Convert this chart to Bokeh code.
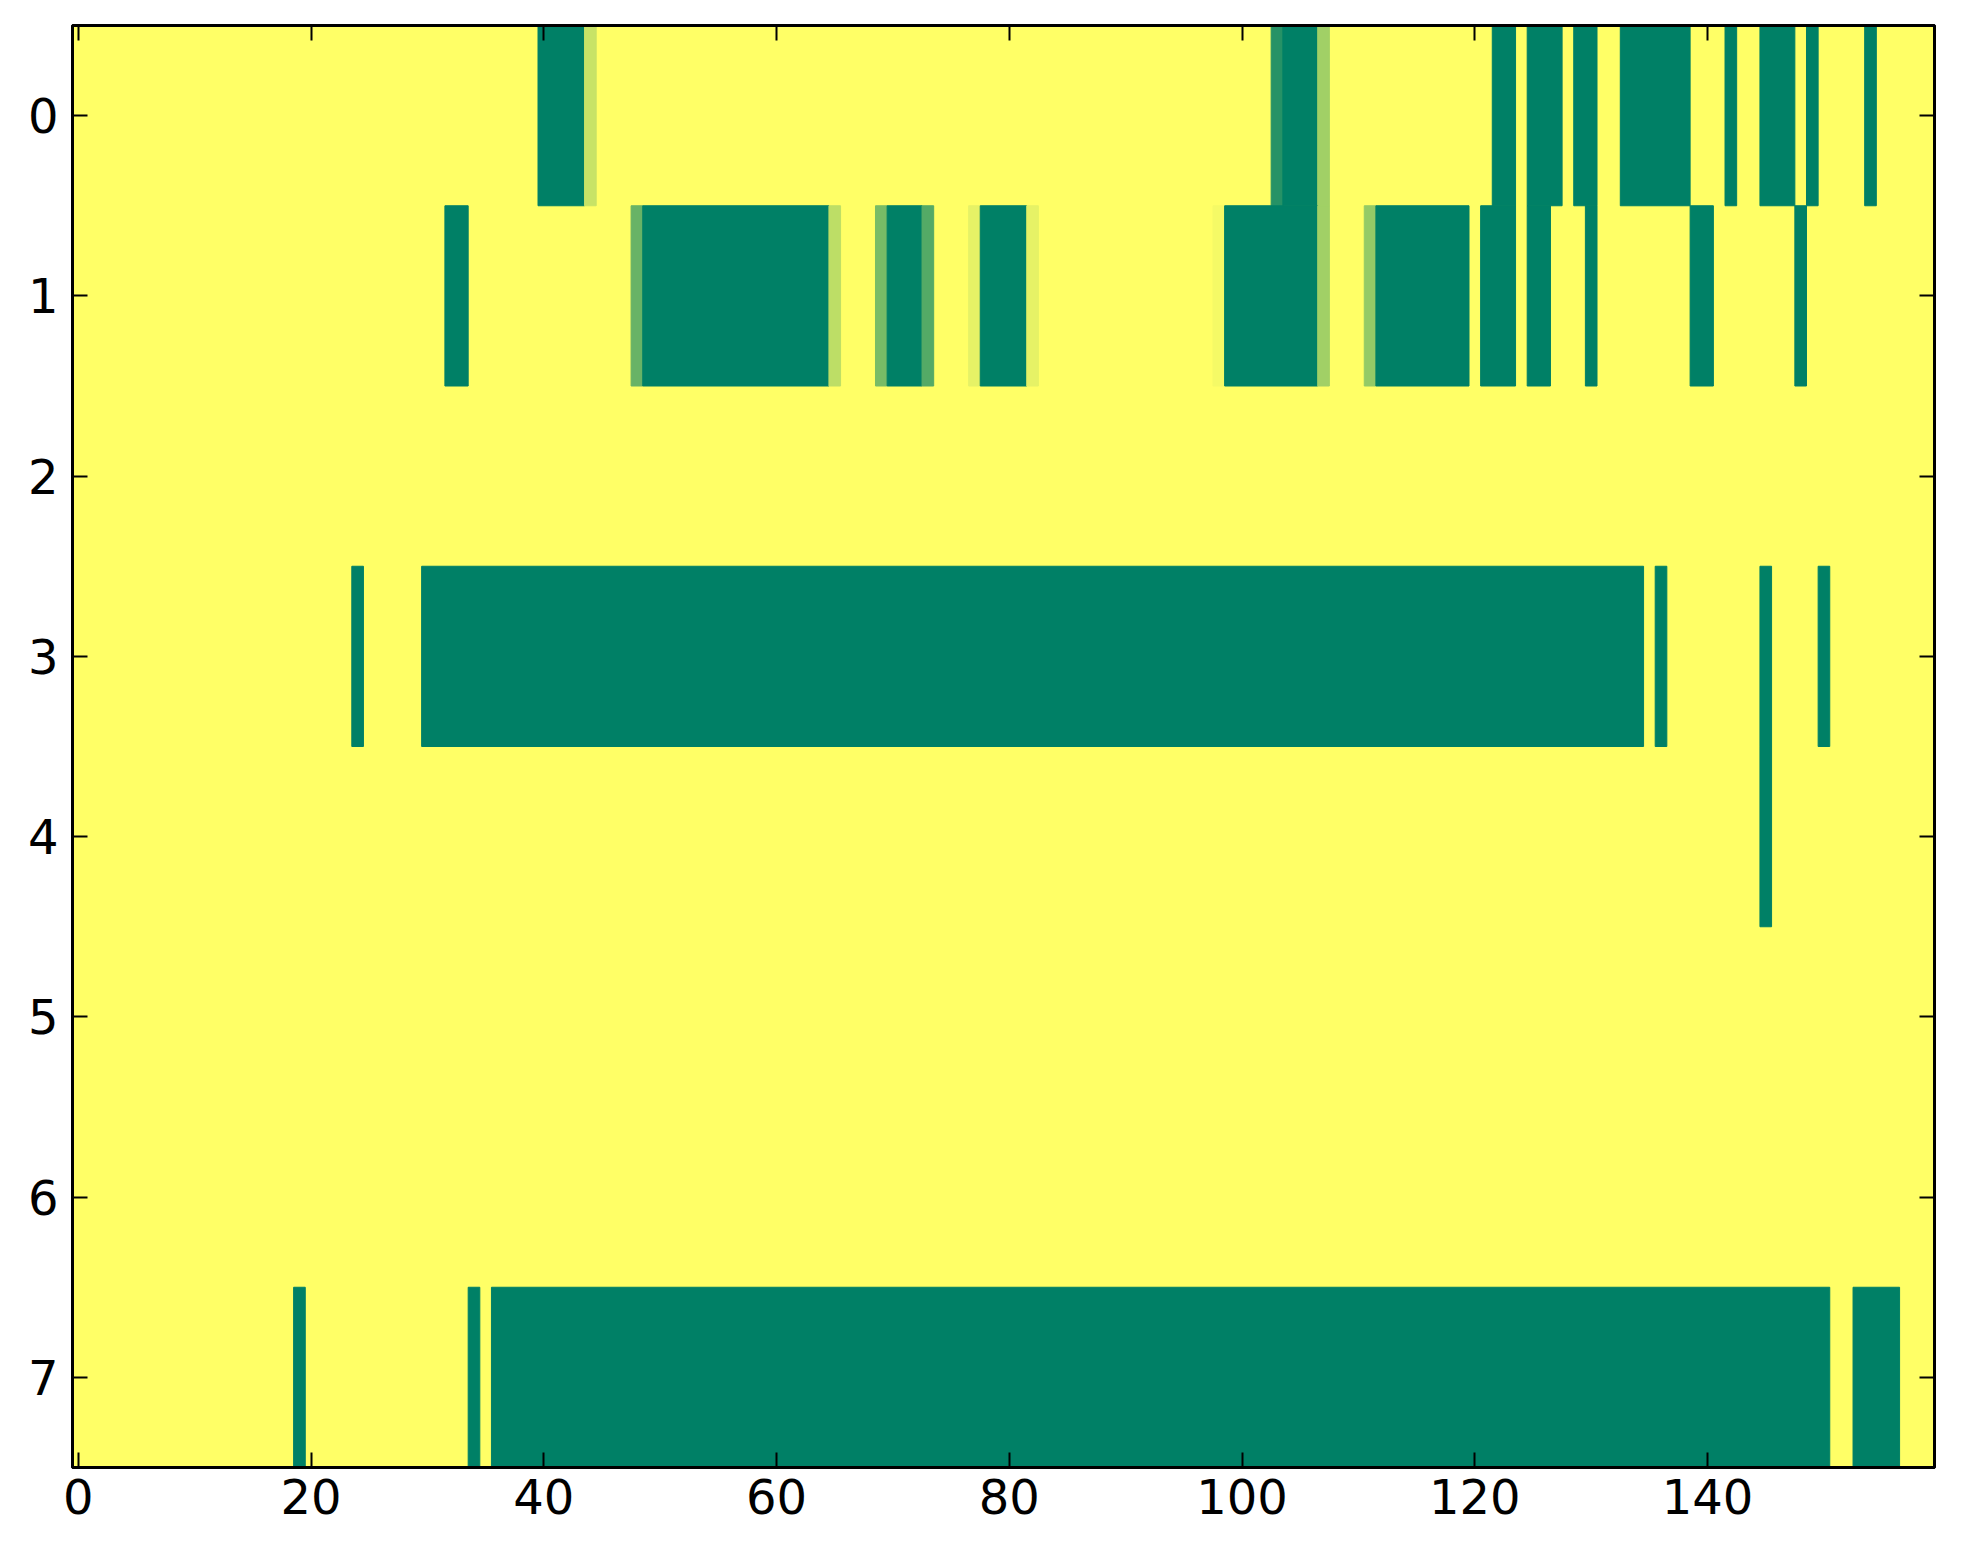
from bokeh.plotting import figure
from bokeh.models import ColumnDataSource, LinearAxis, FixedTicker, Range1d
from bokeh.transform import linear_cmap
from bokeh.embed import file_html
from bokeh.resources import INLINE

# ---- data ----
n_cols = 160
n_rows = 8
x_ticks = [0, 20, 40, 60, 80, 100, 120, 140]
y_ticks = [0, 1, 2, 3, 4, 5, 6, 7]

# runs of cells that are not 1.0: (first column, last column, value); all other cells are 1.0
row0_runs = [(40, 43, 0.0), (44, 44, 0.78), (103, 103, 0.15), (104, 106, 0.0), (107, 107, 0.63),
             (122, 123, 0.0), (125, 127, 0.0), (129, 130, 0.0), (133, 138, 0.0), (142, 142, 0.0),
             (145, 147, 0.0), (149, 149, 0.0), (154, 154, 0.0)]
row1_runs = [(32, 33, 0.0), (48, 48, 0.41), (49, 64, 0.0), (65, 65, 0.74), (69, 69, 0.47),
             (70, 72, 0.0), (73, 73, 0.33), (77, 77, 0.90), (78, 81, 0.0), (82, 82, 0.90),
             (98, 98, 0.96), (99, 106, 0.0), (107, 107, 0.63), (111, 111, 0.58), (112, 119, 0.0),
             (121, 123, 0.0), (125, 126, 0.0), (130, 130, 0.0), (139, 140, 0.0), (148, 148, 0.0)]
row2_runs = []
row3_runs = [(24, 24, 0.0), (30, 134, 0.0), (136, 136, 0.0), (145, 145, 0.0), (150, 150, 0.0)]
row4_runs = [(145, 145, 0.0)]
row5_runs = []
row6_runs = []
row7_runs = [(19, 19, 0.0), (34, 34, 0.0), (36, 150, 0.0), (153, 156, 0.0)]

all_runs = [row0_runs, row1_runs, row2_runs, row3_runs, row4_runs, row5_runs, row6_runs, row7_runs]

# ---- summer colormap ----
def hexc(r, g, b):
    return "#%02x%02x%02x" % (int(round(r * 255)), int(round(g * 255)), int(round(b * 255)))

summer = [hexc(i / 255, 0.5 + 0.5 * i / 255, 0.4) for i in range(256)]

left, right, top, bottom, vals = [], [], [], [], []
for r, runs in enumerate(all_runs):
    for c0, c1, v in runs:
        left.append(c0 - 0.5)
        right.append(c1 + 0.5)
        top.append(r - 0.5)
        bottom.append(r + 0.5)
        vals.append(v)

src = ColumnDataSource(dict(left=left, right=right, top=top, bottom=bottom, v=vals))

p = figure(x_range=Range1d(-0.5, n_cols - 0.5), y_range=Range1d(n_rows - 0.5, -0.5),
           frame_width=1862, frame_height=1442,
           output_backend="svg", toolbar_location=None,
           min_border_left=72, min_border_top=25, min_border_right=12, min_border_bottom=70,
           background_fill_color=summer[-1], border_fill_color="white")
p.grid.visible = False
p.outline_line_color = "black"
p.outline_line_width = 3
p.outline_line_alpha = 1.0

cmap = linear_cmap("v", summer, 0, 1)
p.quad(left="left", right="right", top="top", bottom="bottom", source=src,
       fill_color=cmap, line_color=cmap, line_width=1)

def style_axis(ax, show_labels):
    ax.axis_line_color = "black"
    ax.axis_line_width = 3
    ax.major_tick_in = 15
    ax.major_tick_out = 0
    ax.major_tick_line_width = 2
    ax.major_tick_line_color = "black"
    ax.minor_tick_line_color = None
    if show_labels:
        ax.major_label_text_font = "DejaVu Sans"
        ax.major_label_text_font_size = "48px"
        ax.major_label_text_color = "black"
    else:
        ax.major_label_text_color = None
        ax.major_label_text_font_size = "1px"
        ax.major_label_standoff = 0

xb = p.xaxis[0]
xb.ticker = FixedTicker(ticks=x_ticks)
style_axis(xb, True)
xb.major_label_standoff = 11

yl = p.yaxis[0]
yl.ticker = FixedTicker(ticks=y_ticks)
style_axis(yl, True)
yl.major_label_standoff = 14

xt = LinearAxis(ticker=FixedTicker(ticks=x_ticks))
style_axis(xt, False)
p.add_layout(xt, "above")

yr = LinearAxis(ticker=FixedTicker(ticks=y_ticks))
style_axis(yr, False)
p.add_layout(yr, "right")

open("out.html", "w").write(file_html(p, INLINE))
